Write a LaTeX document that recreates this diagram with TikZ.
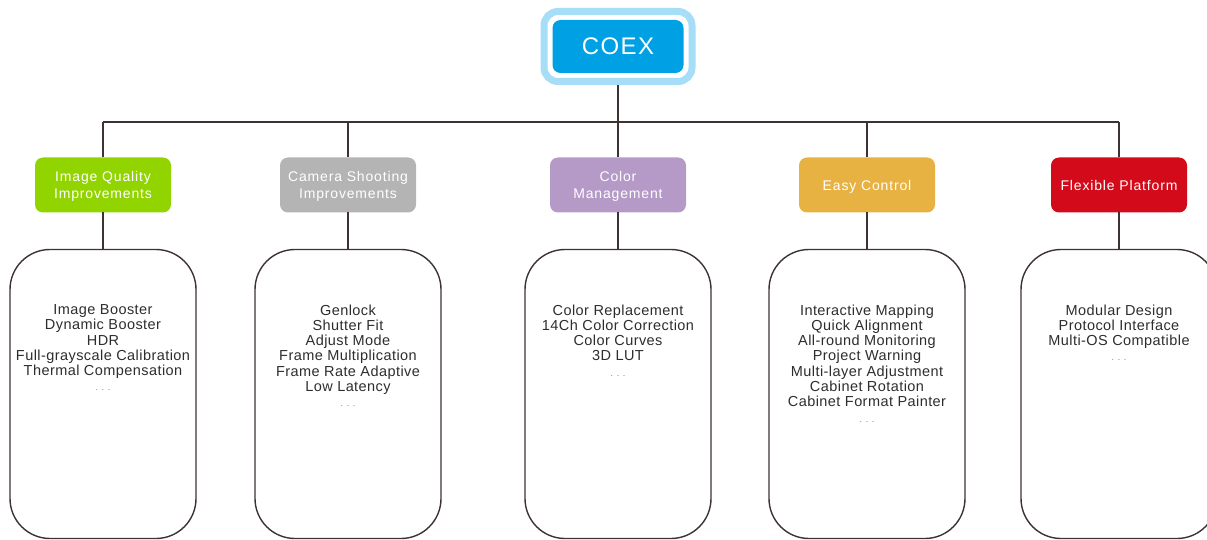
\documentclass[tikz,border=0pt]{standalone}
\usepackage{fontspec}
\setmainfont{Liberation Sans}
\newfontfamily\catfont[LetterSpace=6]{Liberation Sans}
\newfontfamily\listfont[LetterSpace=3]{Liberation Sans}
\usetikzlibrary{positioning, fit}

\definecolor{coexblue}{RGB}{0,160,228}
\definecolor{coexring}{RGB}{166,221,247}
\definecolor{iqgreen}{RGB}{145,212,0}
\definecolor{csgray}{RGB}{180,180,180}
\definecolor{cmpurple}{RGB}{181,154,200}
\definecolor{ecorange}{RGB}{232,178,66}
\definecolor{fpred}{RGB}{210,10,26}
\definecolor{wirecolor}{RGB}{60,50,50}
\definecolor{listtext}{RGB}{45,45,45}

\newcommand{\moredots}{{\fontsize{9}{15.3}\selectfont\color{gray}. . .}}

\begin{document}
\begin{tikzpicture}
    [x = 1pt, y = -1pt, outer sep = 0pt,
    feature/.style={rectangle, rounded corners = 8pt, text = white,
      minimum width = 136pt, minimum height = 55pt, inner sep = 0pt,
      text depth = 0pt, align = center, font =
      \catfont\fontsize{14}{17}\selectfont},
    detail/.style={rectangle, draw = wirecolor, line width = 1.4pt,
      rounded corners = 40pt, minimum width = 186pt, minimum height =
      289pt, inner sep = 0pt},
    featlist/.style={align = center, text = listtext, inner sep = 0pt,
      font = \listfont\fontsize{14.5}{15.3}\selectfont},
    link/.style={draw = wirecolor, line width = 1.4pt}]

    \useasboundingbox (0,0) rectangle (1207,540);
    \clip (0,0) rectangle (1207,540);

    % root
    \node (coex) [fill = coexblue, rounded corners = 8pt, minimum width =
    131pt, minimum height = 53pt, text = white, font =
    \catfont\fontsize{24}{24}\selectfont] at (618,46.5) {COEX};
    \node (coex_ring) [draw = coexring, line width = 7pt, rounded corners
    = 14pt, fit = (coex), inner sep = 8.5pt, outer sep = 3.5pt] {};
    \coordinate (bar) at (618,122);

    % features
    \node (iq) [feature, fill = iqgreen] at (103,185) {Image Quality\\Improvements};
    \node (cs) [feature, fill = csgray] at (348,185) {Camera Shooting\\Improvements};
    \node (cm) [feature, fill = cmpurple] at (618,185) {Color\\Management};
    \node (ec) [feature, fill = ecorange] at (867,185) {Easy Control};
    \node (fp) [feature, fill = fpred] at (1119,185) {Flexible Platform};

    % detail boxes
    \node (iq_box) [detail, below = 37pt of iq] {};
    \node (cs_box) [detail, below = 37pt of cs] {};
    \node (cm_box) [detail, below = 37pt of cm] {};
    \node (ec_box) [detail, minimum width = 196pt, below = 37pt of ec] {};
    \node (fp_box) [detail, minimum width = 196pt, below = 37pt of fp] {};

    \node (iq_list) [featlist, below = 55pt of iq_box.north] {Image
      Booster\\Dynamic Booster\\HDR\\Full-grayscale Calibration\\Thermal
      Compensation\\\moredots};
    \node (cs_list) [featlist, below = 55pt of cs_box.north] {Genlock\\Shutter
      Fit\\Adjust Mode\\Frame Multiplication\\Frame Rate Adaptive\\Low
      Latency\\\moredots};
    \node (cm_list) [featlist, below = 55pt of cm_box.north] {Color
      Replacement\\14Ch Color Correction\\Color Curves\\3D LUT\\\moredots};
    \node (ec_list) [featlist, below = 55pt of ec_box.north] {Interactive
      Mapping\\Quick Alignment\\All-round Monitoring\\Project
      Warning\\Multi-layer Adjustment\\Cabinet Rotation\\Cabinet Format
      Painter\\\moredots};
    \node (fp_list) [featlist, below = 55pt of fp_box.north] {Modular
      Design\\Protocol Interface\\Multi-OS Compatible\\\moredots};

    % wiring
    \draw [link] (coex_ring) -- (bar);
    \draw [link] (iq.north |- bar) -- (fp.north |- bar);
    \draw [link] (iq) -- (iq.north |- bar);
    \draw [link] (cs) -- (cs.north |- bar);
    \draw [link] (cm) -- (cm.north |- bar);
    \draw [link] (ec) -- (ec.north |- bar);
    \draw [link] (fp) -- (fp.north |- bar);
    \draw [link] (iq) -- (iq_box);
    \draw [link] (cs) -- (cs_box);
    \draw [link] (cm) -- (cm_box);
    \draw [link] (ec) -- (ec_box);
    \draw [link] (fp) -- (fp_box);
  \end{tikzpicture}
\end{document}
